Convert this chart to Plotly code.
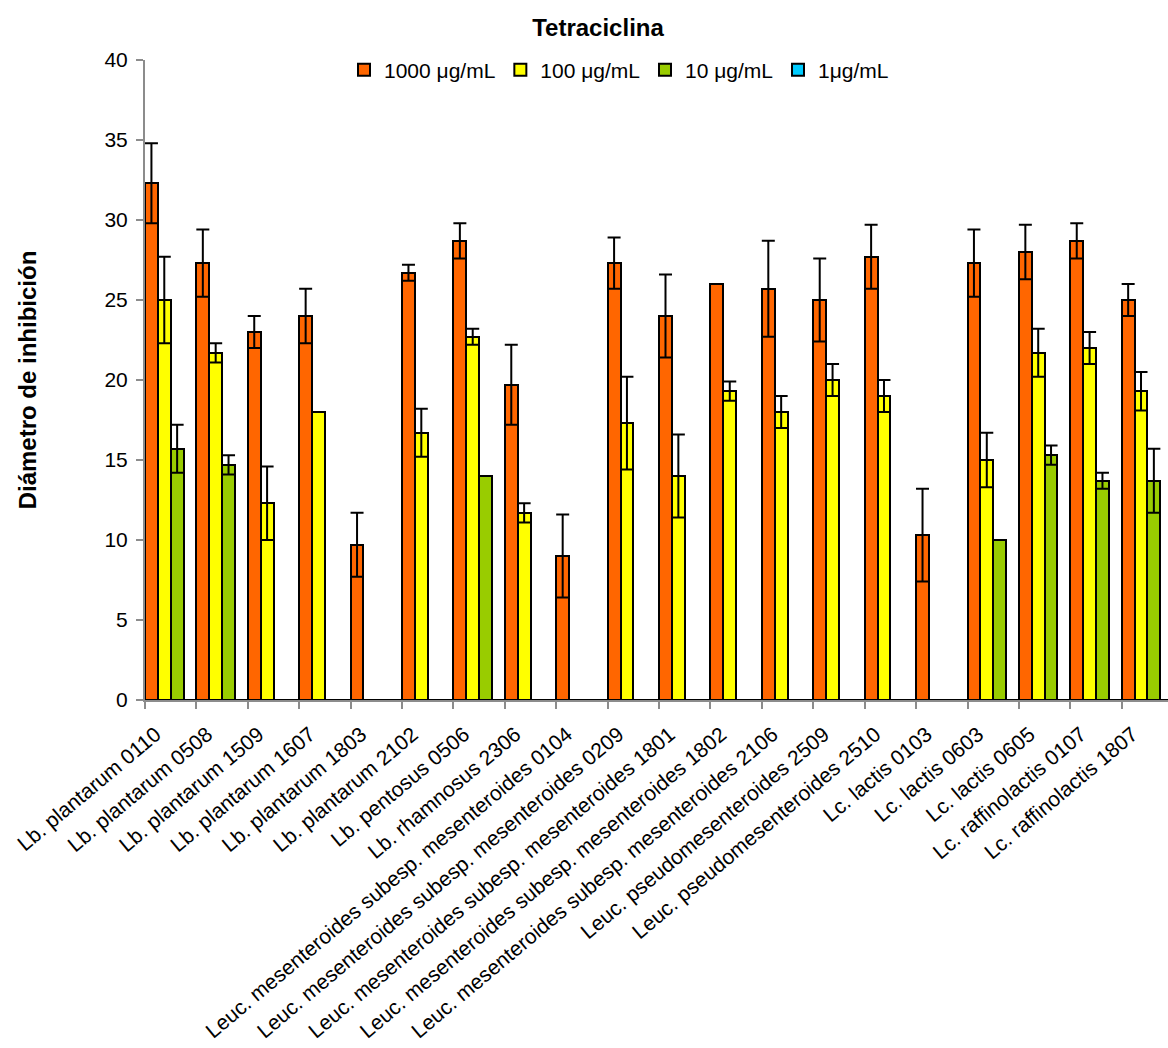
import plotly.graph_objects as go

strains = [
    "Lb. plantarum 0110", "Lb. plantarum 0508", "Lb. plantarum 1509",
    "Lb. plantarum 1607", "Lb. plantarum 1803", "Lb. plantarum 2102",
    "Lb. pentosus 0506", "Lb. rhamnosus 2306",
    "Leuc. mesenteroides subesp. mesenteroides 0104",
    "Leuc. mesenteroides subesp. mesenteroides 0209",
    "Leuc. mesenteroides subesp. mesenteroides 1801",
    "Leuc. mesenteroides subesp. mesenteroides 1802",
    "Leuc. mesenteroides subesp. mesenteroides 2106",
    "Leuc. pseudomesenteroides 2509", "Leuc. pseudomesenteroides 2510",
    "Lc. lactis 0103", "Lc. lactis 0603", "Lc. lactis 0605",
    "Lc. raffinolactis 0107", "Lc. raffinolactis 1807",
]

series_names = ["1000 μg/mL", "100 μg/mL", "10 μg/mL", "1μg/mL"]

# inhibition diameter per concentration
d1000 = [32.3, 27.3, 23.0, 24.0, 9.7, 26.7, 28.7, 19.7, 9.0, 27.3,
         24.0, 26.0, 25.7, 25.0, 27.7, 10.3, 27.3, 28.0, 28.7, 25.0]
d100 = [25.0, 21.7, 12.3, 18.0, 0, 16.7, 22.7, 11.7, 0, 17.3,
        14.0, 19.3, 18.0, 20.0, 19.0, 0, 15.0, 21.7, 22.0, 19.3]
d10 = [15.7, 14.7, 0, 0, 0, 0, 14.0, 0, 0, 0,
       0, 0, 0, 0, 0, 0, 10.0, 15.3, 13.7, 13.7]
d1 = [0] * 20

# standard deviations (None = no error bar)
e1000 = [2.5, 2.1, 1.0, 1.7, 2.0, 0.5, 1.1, 2.5, 2.6, 1.6,
         2.6, None, 3.0, 2.6, 2.0, 2.9, 2.1, 1.7, 1.1, 1.0]
e100 = [2.7, 0.6, 2.3, None, None, 1.5, 0.5, 0.6, None, 2.9,
        2.6, 0.6, 1.0, 1.0, 1.0, None, 1.7, 1.5, 1.0, 1.2]
e10 = [1.5, 0.6, None, None, None, None, None, None, None, None,
       None, None, None, None, None, None, None, 0.6, 0.5, 2.0]
e1 = [None] * 20

colors = ["#FF6600", "#FFFF00", "#99CC00", "#00CCFF"]
FONT = "Liberation Sans, Arial, sans-serif"

fig = go.Figure()
for name, vals, errs, col in zip(series_names, [d1000, d100, d10, d1],
                                 [e1000, e100, e10, e1], colors):
    fig.add_trace(go.Bar(
        x=strains, y=vals, name=name,
        marker=dict(color=col, line=dict(color="black", width=2)),
        error_y=dict(type="data", array=errs, visible=True,
                     color="black", thickness=2, width=6.5),
    ))

fig.update_layout(
    width=1168, height=1048,
    margin=dict(l=145, r=0, t=60, b=348, autoexpand=False),
    paper_bgcolor="white", plot_bgcolor="white",
    barmode="group", bargap=0, bargroupgap=0,
    font=dict(family=FONT, size=21, color="black"),
    title=dict(text="<b>Tetraciclina</b>", font=dict(size=24),
               x=598 / 1168, xanchor="center", xref="container",
               y=1 - 28 / 1048, yanchor="middle", yref="container"),
    legend=dict(orientation="h", x=(344 - 145) / 1023, xanchor="left",
                y=(700 - 70) / 640, yanchor="middle",
                font=dict(size=21), itemwidth=30, tracegroupgap=0,
                bgcolor="rgba(0,0,0,0)"),
    showlegend=True,
)

fig.update_xaxes(
    range=[-0.5, 19.4], tickangle=-40, showgrid=False,
    showline=True, linecolor="#8c8c8c", linewidth=2,
    ticks="outside", tickson="boundaries", ticklen=7, tickcolor="#8c8c8c",
    tickwidth=1.5, tickfont=dict(size=21),
    ticklabelstandoff=12, ticklabelshift=-15,
)
fig.update_yaxes(
    range=[0, 40], dtick=5, showgrid=False, zeroline=False,
    showline=True, linecolor="#8c8c8c", linewidth=2,
    ticks="outside", ticklen=7, tickcolor="#8c8c8c", tickwidth=1.5,
    tickfont=dict(size=21), ticklabelstandoff=4,
    title=dict(text="<b>Diámetro de inhibición</b>", font=dict(size=24),
               standoff=61),
)

fig.write_html("out.html")
